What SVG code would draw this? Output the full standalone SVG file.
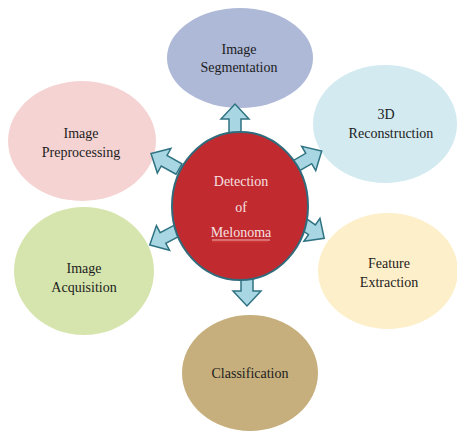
<svg xmlns="http://www.w3.org/2000/svg" width="457" height="431" viewBox="0 0 457 431">
  <defs>
    <!-- block arrow pointing along +x, base at origin -->
    <polygon id="blockArrow" points="0,-6 17,-6 17,-14 32,0 17,14 17,6 0,6"/>
  </defs>
  <style>
    .lbl { font-family: "Liberation Serif", "Times New Roman", serif; font-size: 14px; fill: #1c1c1c; text-anchor: middle; }
    .hub { font-family: "Liberation Serif", "Times New Roman", serif; font-size: 14px; fill: #f6e0e0; text-anchor: middle; }
    .arrow { fill: #a8d6e2; stroke: #2f7383; stroke-width: 1.5; stroke-linejoin: miter; }
  </style>
  <rect width="457" height="431" fill="#ffffff"/>

  <g id="node-segmentation">
    <ellipse cx="240" cy="58" rx="73" ry="50" fill="#aeb8d7"/>
    <text class="lbl" x="239" y="54">Image</text>
    <text class="lbl" x="239" y="72">Segmentation</text>
  </g>
  <g id="node-reconstruction">
    <ellipse cx="385" cy="124" rx="72" ry="59" fill="#d3eaf1"/>
    <text class="lbl" x="386" y="119">3D</text>
    <text class="lbl" x="391" y="138">Reconstruction</text>
  </g>
  <g id="node-feature">
    <ellipse cx="388" cy="271" rx="70" ry="58" fill="#fdefca"/>
    <text class="lbl" x="389" y="268">Feature</text>
    <text class="lbl" x="389" y="287">Extraction</text>
  </g>
  <g id="node-classification">
    <ellipse cx="250" cy="373" rx="68" ry="58" fill="#c6af7c"/>
    <text class="lbl" x="250" y="378">Classification</text>
  </g>
  <g id="node-acquisition">
    <ellipse cx="84" cy="271" rx="70" ry="64" fill="#d6e5ad"/>
    <text class="lbl" x="84" y="273">Image</text>
    <text class="lbl" x="84" y="292">Acquisition</text>
  </g>
  <g id="node-preprocessing">
    <ellipse cx="82" cy="141" rx="74" ry="60" fill="#f5d3d3"/>
    <text class="lbl" x="81" y="138">Image</text>
    <text class="lbl" x="81" y="157">Preprocessing</text>
  </g>

  <g id="connectors">
    <use href="#blockArrow" class="arrow" transform="translate(235,136) rotate(-90)"/>
    <use href="#blockArrow" class="arrow" transform="translate(247,274) rotate(90)"/>
    <use href="#blockArrow" class="arrow" transform="translate(294,167) rotate(-30)"/>
    <use href="#blockArrow" class="arrow" transform="translate(298,220) rotate(35)"/>
    <use href="#blockArrow" class="arrow" transform="translate(179,169) rotate(209)"/>
    <use href="#blockArrow" class="arrow" transform="translate(178,230) rotate(152)"/>
  </g>

  <g id="node-detection">
    <ellipse cx="240" cy="206" rx="68" ry="74" fill="#c12a2f" stroke="#2f6b7b" stroke-width="2"/>
    <text class="hub" x="241" y="186">Detection</text>
    <text class="hub" x="241" y="212">of</text>
    <text class="hub" x="241" y="237">Melonoma</text>
    <line x1="212" y1="240" x2="270" y2="240" stroke="#f6e0e0" stroke-width="0.8"/>
    <path d="M212,242.5 l2,-1.5 l2,1.5 l2,-1.5 l2,1.5 l2,-1.5 l2,1.5 l2,-1.5 l2,1.5 l2,-1.5 l2,1.5 l2,-1.5 l2,1.5 l2,-1.5 l2,1.5 l2,-1.5 l2,1.5 l2,-1.5 l2,1.5 l2,-1.5 l2,1.5 l2,-1.5 l2,1.5 l2,-1.5 l2,1.5 l2,-1.5 l2,1.5 l2,-1.5 l2,1.5" fill="none" stroke="#e0403a" stroke-width="0.8"/>
  </g>
</svg>
